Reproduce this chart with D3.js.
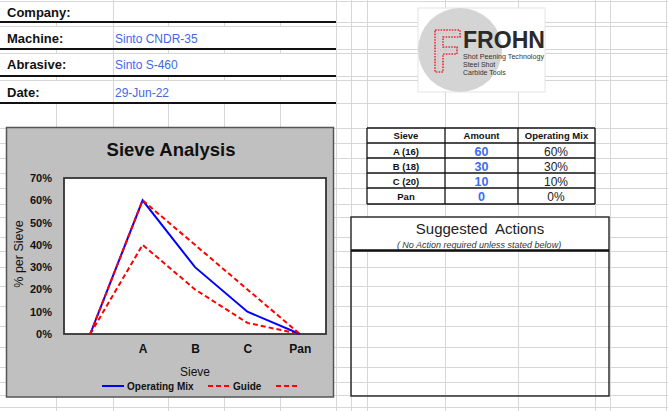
<!DOCTYPE html>
<html><head><meta charset="utf-8">
<script src="https://cdn.jsdelivr.net/npm/d3@7"></script>
<style>
html,body{margin:0;padding:0;background:#fff;}
svg{display:block;font-family:"Liberation Sans",Arial,sans-serif;}
</style></head>
<body><svg id="c" width="668" height="411"></svg>
<script>
// ---- data ----
const categories = ["", "A", "B", "C", "Pan"];
const operatingMix = [0, 60, 30, 10, 0];
const guideUpper = [0, 60, 40, 20, 0];
const guideLower = [0, 40, 20, 5, 0];
const yTicks = [0, 10, 20, 30, 40, 50, 60, 70];
const legendNames = ["Operating Mix", "Guide", ""];
const infoLabels = ["Company:", "Machine:", "Abrasive:", "Date:"];
const infoValues = ["", "Sinto CNDR-35", "Sinto S-460", "29-Jun-22"];
const tableHeaders = ["Sieve", "Amount", "Operating Mix"];
const tableSieves = ["A (16)", "B (18)", "C (20)", "Pan"];
const tableAmounts = [60, 30, 10, 0];
const tableMix = ["60%", "30%", "10%", "0%"];
const logoLines = ["Shot Peening Technology", "Steel Shot", "Carbide Tools"];

const svg = d3.select("#c");
const gridColor = "#d6d6d6";

// ---- spreadsheet grid ----
const colX = [56, 113, 168, 224, 280, 336, 351, 367, 445, 518, 595, 610, 666];
const rowY = [0.5, 22, 26, 49, 53, 76, 80, 103, 128, 143, 158, 173, 188, 204, 217, 237, 251, 267, 286, 306, 326, 347, 367, 382, 395, 407];
const grid = svg.append("g").attr("stroke", gridColor).attr("stroke-width", 1);
rowY.forEach(y => grid.append("line").attr("x1", 0).attr("x2", 668).attr("y1", Math.round(y) + 0.5).attr("y2", Math.round(y) + 0.5));
const mergedRows = [[0, 22], [26, 49], [53, 76], [80, 103]];
colX.forEach(x => {
  let segs = [];
  if (x < 336 && x !== 113) {
    let prev = 0;
    mergedRows.forEach(([a, b]) => { if (a > prev) segs.push([prev, a]); prev = b; });
    segs.push([103, 411]);
  } else segs.push([0, 411]);
  segs.forEach(([a, b]) => grid.append("line").attr("x1", x + 0.5).attr("x2", x + 0.5).attr("y1", a).attr("y2", b));
});

// ---- info block ----
const info = svg.append("g");
const infoBase = [17, 43, 69, 97];
const infoLines = [22, 49, 76, 103];
infoLabels.forEach((t, i) => {
  info.append("text").attr("x", 7).attr("y", infoBase[i]).attr("font-size", 13).attr("font-weight", "bold").attr("fill", "#111").text(t);
  info.append("text").attr("x", 115).attr("y", infoBase[i]).attr("font-size", 12).attr("fill", "#4169e1").text(infoValues[i]);
  info.append("line").attr("x1", 0).attr("x2", 336).attr("y1", infoLines[i]).attr("y2", infoLines[i]).attr("stroke", "#111").attr("stroke-width", 2);
});

// ---- logo ----
const logo = svg.append("g");
logo.append("rect").attr("x", 418).attr("y", 8).attr("width", 127).attr("height", 84).attr("fill", "#fff").attr("stroke", "#e4e4e4");
logo.append("clipPath").attr("id", "lc").append("rect").attr("x", 418).attr("y", 8).attr("width", 127).attr("height", 84);
logo.append("circle").attr("cx", 460).attr("cy", 50).attr("r", 42).attr("fill", "#d4d4d4").attr("clip-path", "url(#lc)");
logo.append("path").attr("d", "M435,30 H460 V37 H443 V47 H457 V54 H443 V72 H435 Z")
  .attr("fill", "none").attr("stroke", "#e0303a").attr("stroke-width", 1.6).attr("stroke-dasharray", "1.6,1.2");
logo.append("path").attr("d", "M438,33 H457 M438,33 V69 M440,50 H454")
  .attr("fill", "none").attr("stroke", "#f0a0a5").attr("stroke-width", 1).attr("stroke-dasharray", "1,1.5");
logo.append("text").attr("x", 463).attr("y", 47.5).attr("font-size", 24).attr("font-weight", "bold").attr("fill", "#2a2a2a")
  .attr("textLength", 82).attr("lengthAdjust", "spacingAndGlyphs").text("FROHN");
logoLines.forEach((t, i) => {
  const tx = logo.append("text").attr("x", 463).attr("y", 59 + i * 8).attr("font-size", 7).attr("fill", "#333").text(t);
  if (i === 0) tx.attr("textLength", 81).attr("lengthAdjust", "spacingAndGlyphs");
});

// ---- table ----
const tCols = [367, 445, 518, 595];
const tRows = [128, 143, 158, 173, 188, 204];
const tb = svg.append("g");
tb.append("rect").attr("x", tCols[0]).attr("y", tRows[0]).attr("width", tCols[3] - tCols[0]).attr("height", tRows[5] - tRows[0]).attr("fill", "#fff");
tableHeaders.forEach((h, i) => {
  tb.append("text").attr("x", (tCols[i] + tCols[i + 1]) / 2).attr("y", 139).attr("text-anchor", "middle")
    .attr("font-size", 9.5).attr("font-weight", "bold").attr("fill", "#111").text(h);
});
tableSieves.forEach((s, i) => {
  const yb = tRows[i + 1] + 11.5;
  tb.append("text").attr("x", 406).attr("y", yb).attr("text-anchor", "middle").attr("font-size", 9.5).attr("font-weight", "bold").attr("fill", "#111").text(s);
  tb.append("text").attr("x", 481.5).attr("y", yb + 1).attr("text-anchor", "middle").attr("font-size", 12.5).attr("font-weight", "bold").attr("fill", "#3a6cf0").text(tableAmounts[i]);
  tb.append("text").attr("x", 556).attr("y", yb + 1).attr("text-anchor", "middle").attr("font-size", 12).attr("fill", "#222").text(tableMix[i]);
});
tRows.forEach(y => tb.append("line").attr("x1", tCols[0]).attr("x2", tCols[3]).attr("y1", y).attr("y2", y).attr("stroke", "#111").attr("stroke-width", 1.3));
tCols.forEach(x => tb.append("line").attr("x1", x).attr("x2", x).attr("y1", tRows[0]).attr("y2", tRows[5]).attr("stroke", "#111").attr("stroke-width", 1.3));

// ---- suggested actions ----
const sa = svg.append("g");
sa.append("rect").attr("x", 351).attr("y", 217).attr("width", 258).attr("height", 33).attr("fill", "#fff");
sa.append("rect").attr("x", 351).attr("y", 217).attr("width", 258).attr("height", 179).attr("fill", "none").attr("stroke", "#222").attr("stroke-width", 1.4);
sa.append("text").attr("x", 480).attr("y", 234).attr("text-anchor", "middle").attr("font-size", 15).attr("fill", "#222")
  .style("white-space", "pre").text("Suggested  Actions");
sa.append("text").attr("x", 479).attr("y", 247.5).attr("text-anchor", "middle").attr("font-size", 9).attr("font-style", "italic").attr("fill", "#333")
  .text("( No Action required unless stated below)");
sa.append("line").attr("x1", 351).attr("x2", 609).attr("y1", 250.5).attr("y2", 250.5).attr("stroke", "#111").attr("stroke-width", 2.5);

// ---- chart ----
const ch = svg.append("g");
ch.append("rect").attr("x", 6.5).attr("y", 127.5).attr("width", 327).attr("height", 269.5).attr("fill", "#c0c0c0").attr("stroke", "#555").attr("stroke-width", 1.5);
ch.append("text").attr("x", 171).attr("y", 155.5).attr("text-anchor", "middle").attr("font-size", 18.5).attr("font-weight", "bold").attr("fill", "#111").text("Sieve Analysis");

const x = d3.scalePoint().domain(categories).range([64, 326]).padding(0.5);
const y = d3.scaleLinear().domain([0, 70]).range([334, 178]);

ch.append("rect").attr("x", 64).attr("y", 178).attr("width", 262).attr("height", 156).attr("fill", "#fff").attr("stroke", "#333").attr("stroke-width", 1.8);

const ya = ch.append("g").attr("transform", "translate(64,0)")
  .call(d3.axisLeft(y).tickValues(yTicks).tickSize(0).tickPadding(12).tickFormat(d => d + "%"));
ya.select(".domain").remove();
ya.selectAll("text").attr("font-size", 11).attr("font-weight", "bold").attr("fill", "#111").attr("font-family", "Liberation Sans, Arial, sans-serif");

const xa = ch.append("g").attr("transform", "translate(0,334)")
  .call(d3.axisBottom(x).tickSize(0).tickPadding(10));
xa.select(".domain").remove();
xa.selectAll("text").attr("font-size", 12).attr("font-weight", "bold").attr("fill", "#111").attr("font-family", "Liberation Sans, Arial, sans-serif");

ch.append("text").attr("x", 195).attr("y", 376).attr("text-anchor", "middle").attr("font-size", 12).attr("fill", "#111").text("Sieve");
ch.append("text").attr("transform", "translate(22.5,254) rotate(-90)").attr("text-anchor", "middle").attr("font-size", 12.5).attr("fill", "#111").text("% per Sieve");

const line = d3.line().x((d, i) => x(categories[i])).y(d => y(d));
ch.append("path").datum(guideLower).attr("d", line).attr("fill", "none").attr("stroke", "#ff0000").attr("stroke-width", 2).attr("stroke-dasharray", "5,3");
ch.append("path").datum(operatingMix).attr("d", line).attr("fill", "none").attr("stroke", "#0000ff").attr("stroke-width", 2);
ch.append("path").datum(guideUpper).attr("d", line).attr("fill", "none").attr("stroke", "#ff0000").attr("stroke-width", 2).attr("stroke-dasharray", "5,3");

// legend
const leg = [{x: 102, c: "#0000ff", dash: null}, {x: 208, c: "#ff0000", dash: "5,3"}, {x: 276, c: "#ff0000", dash: "5,3"}];
leg.forEach((l, i) => {
  ch.append("line").attr("x1", l.x).attr("x2", l.x + 22).attr("y1", 386).attr("y2", 386).attr("stroke", l.c).attr("stroke-width", 2).attr("stroke-dasharray", l.dash);
  if (legendNames[i]) ch.append("text").attr("x", l.x + 25).attr("y", 389.5).attr("font-size", 10).attr("font-weight", "bold").attr("fill", "#111").text(legendNames[i]);
});
</script></body></html>
